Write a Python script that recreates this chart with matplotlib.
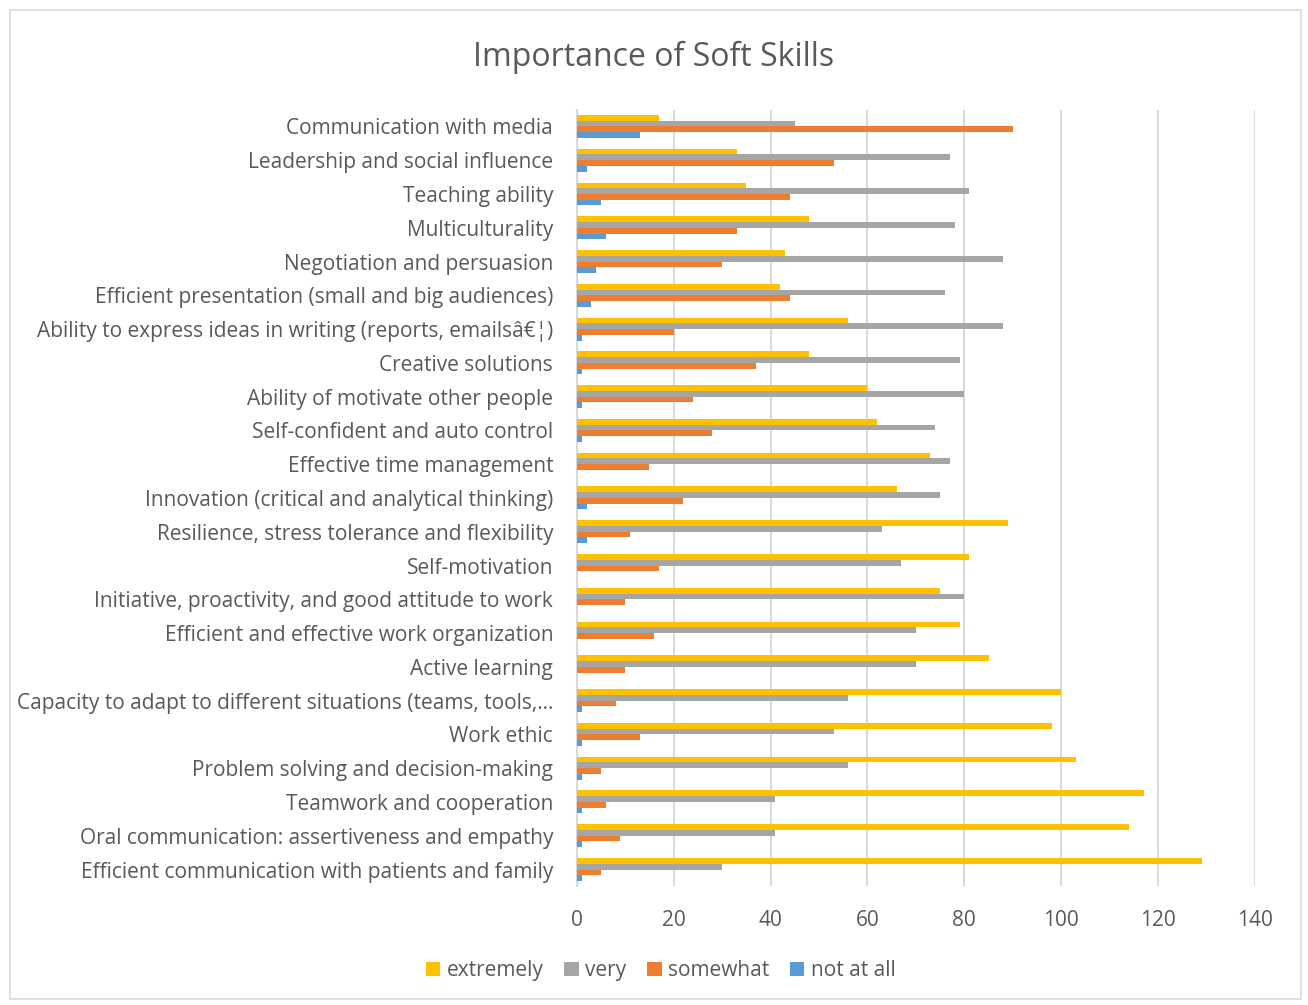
import numpy as np
import matplotlib.pyplot as plt
from matplotlib.patches import Rectangle

# skills, listed top to bottom as in the chart
skills = ['Communication with media',
          'Leadership and social influence',
          'Teaching ability',
          'Multiculturality',
          'Negotiation and persuasion',
          'Efficient presentation (small and big audiences)',
          'Ability to express ideas in writing (reports, emails\u00e2\u20ac\u00a6)',
          'Creative solutions',
          'Ability of motivate other people',
          'Self-confident and auto control',
          'Effective time management',
          'Innovation (critical and analytical thinking)',
          'Resilience, stress tolerance and flexibility',
          'Self-motivation',
          'Initiative, proactivity, and good attitude to work',
          'Efficient and effective work organization',
          'Active learning',
          'Capacity to adapt to different situations (teams, tools,\u2026',
          'Work ethic',
          'Problem solving and decision-making',
          'Teamwork and cooperation',
          'Oral communication: assertiveness and empathy',
          'Efficient communication with patients and family']

extremely = [17, 33, 35, 48, 43, 42, 56, 48, 60, 62, 73, 66, 89, 81, 75, 79, 85, 100, 98, 103, 117, 114, 129]
very = [45, 77, 81, 78, 88, 76, 88, 79, 80, 74, 77, 75, 63, 67, 80, 70, 70, 56, 53, 56, 41, 41, 30]
somewhat = [90, 53, 44, 33, 30, 44, 20, 37, 24, 28, 15, 22, 11, 17, 10, 16, 10, 8, 13, 5, 6, 9, 5]
not_at_all = [13, 2, 5, 6, 4, 3, 1, 1, 1, 1, 0, 2, 2, 0, 0, 0, 0, 1, 1, 1, 1, 1, 1]

series = [('extremely', extremely, '#FFC000'),
          ('very', very, '#A5A5A5'),
          ('somewhat', somewhat, '#ED7D31'),
          ('not at all', not_at_all, '#5B9BD5')]

txt = '#595959'
plt.rcParams['font.family'] = ['Open Sans', 'DejaVu Sans']

fig = plt.figure(figsize=(13.08, 10.05), dpi=100)
ax = fig.add_axes([0.441, 0.118, 0.5185, 0.773])

n = len(skills)
y = np.arange(n)[::-1]
h = 0.17
offs = [1.5, 0.5, -0.5, -1.5]
for (name, vals, col), off in zip(series, offs):
    ax.barh(y + off * h, vals, height=h, color=col, label=name, zorder=3)

ax.set_ylim(-0.5, n - 0.5)
ax.set_xlim(0, 140)
ax.set_xticks(range(0, 141, 20))
ax.set_yticks(y)
ax.set_yticklabels(skills, fontsize=15, color=txt)
ax.tick_params(axis='x', labelsize=15, colors=txt, length=0, pad=17)
ax.tick_params(axis='y', length=0, pad=17)
ax.grid(axis='x', color='#D9D9D9', linewidth=1.5, zorder=0)
for s in ['top', 'right', 'bottom']:
    ax.spines[s].set_visible(False)
ax.spines['left'].set_color('#D9D9D9')
ax.spines['left'].set_linewidth(1.5)

fig.text(0.5, 0.943, 'Importance of Soft Skills', ha='center', va='center',
         fontsize=23, color=txt)

fig.legend(loc='center', bbox_to_anchor=(0.505, 0.034), ncol=4, frameon=False,
           fontsize=15, labelcolor=txt, handlelength=0.7, handleheight=0.7,
           handletextpad=0.3, columnspacing=1.0)

fig.patches.append(Rectangle((0.008, 0.006), 0.987, 0.984, transform=fig.transFigure,
                             fill=False, edgecolor='#D9D9D9', linewidth=1.2))

fig.savefig('out.png', dpi=100)
